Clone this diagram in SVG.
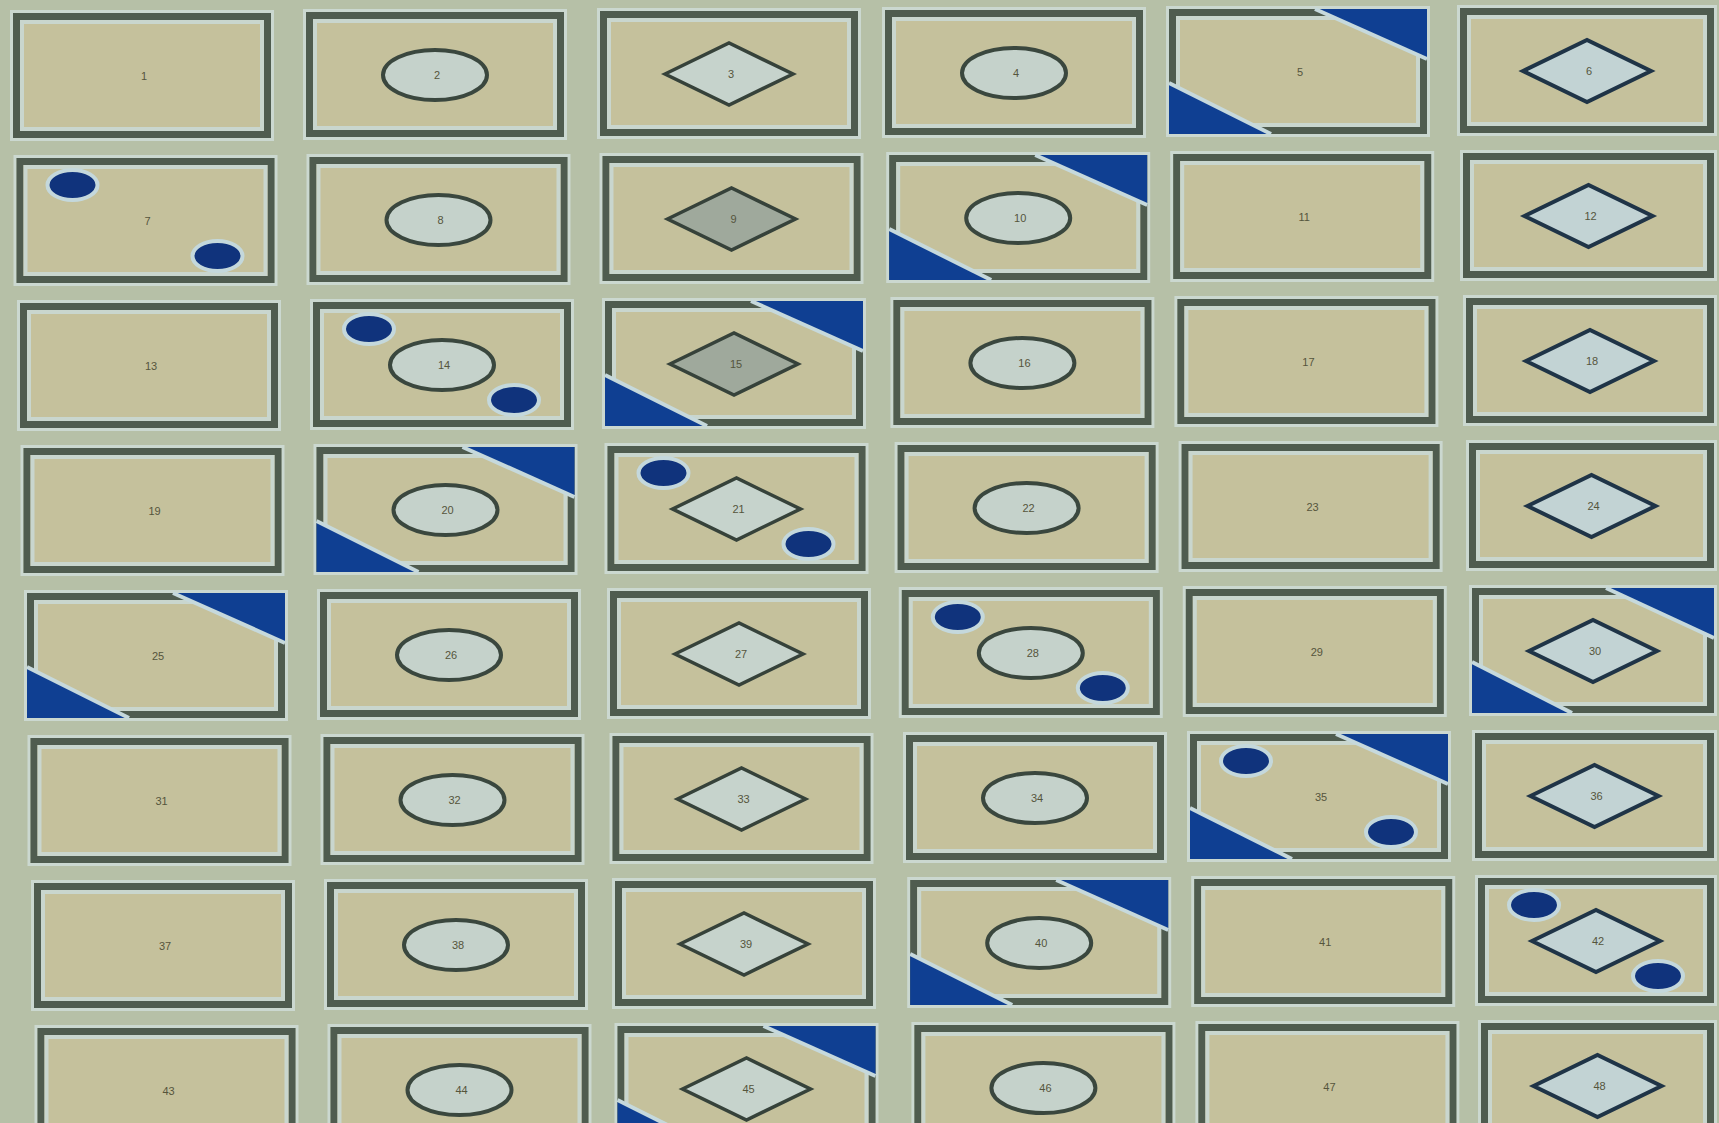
<svg xmlns="http://www.w3.org/2000/svg" xmlns:xlink="http://www.w3.org/1999/xlink" width="1719" height="1123" viewBox="0 0 1719 1123">
<style>
.bg{fill:#b6c0a7}
.halo{fill:none;stroke:#cbd8d0;stroke-width:3}
.body{fill:#c5c19c;stroke:#4f5c4f;stroke-width:7}
.inner{fill:none;stroke:#c9d6ce;stroke-width:4}
.tri{fill:#0f3f92}
.edge{stroke:#c6d9dc;stroke-width:4}
.dot{fill:#10337c;stroke:#c4d8dc;stroke-width:4}
.ring{fill:#c5d2cb;stroke:#3a473e;stroke-width:4}
.dia{fill:#c6d3cc;stroke:#36423a;stroke-width:3.5}
.diag{fill:#9fa99c;stroke:#36423a;stroke-width:3.5}
.dia6{fill:#c2d3d4;stroke:#1f3447;stroke-width:4}
.lbl{font-family:"Liberation Sans",Arial,sans-serif;font-size:11px;fill:#55553c;text-anchor:middle}
</style>
<defs>
<g id="base">
<rect class="halo" x="-1.5" y="-1.5" width="261" height="128"/>
<rect class="body" x="3.5" y="3.5" width="251" height="118"/>
<rect class="inner" x="9" y="9" width="240" height="107"/>
</g>
<g id="tris">
<polygon class="tri" points="146,0 258,0 258,50"/>
<polygon class="tri" points="0,74 0,125 102,125"/>
<line class="edge" x1="146" y1="0" x2="258" y2="50"/>
<line class="edge" x1="0" y1="74" x2="102" y2="125"/>
</g>
<g id="dots">
<ellipse class="dot" cx="56" cy="27" rx="25" ry="15"/>
<ellipse class="dot" cx="201" cy="98" rx="25" ry="15"/>
</g>
<ellipse id="ring" class="ring" cx="0" cy="0" rx="52" ry="25"/>
<polygon id="dia" class="dia" points="-64,0 0,-31 64,0 0,31"/>
<polygon id="diag" class="diag" points="-64,0 0,-31 64,0 0,31"/>
<polygon id="dia6" class="dia6" points="-64,0 0,-31 64,0 0,31"/>
</defs>
<rect class="bg" x="0" y="0" width="1719" height="1123"/>
<g id="connectors"></g>

<!-- Row 1 -->
<g id="card-1" transform="translate(13,13)"><use href="#base"/><text class="lbl" x="131" y="67">1</text></g>
<g id="card-2" transform="translate(306,12)"><use href="#base"/><use href="#ring" x="129" y="63"/><text class="lbl" x="131" y="67">2</text></g>
<g id="card-3" transform="translate(600,11)"><use href="#base"/><use href="#dia" x="129" y="63"/><text class="lbl" x="131" y="67">3</text></g>
<g id="card-4" transform="translate(885,10)"><use href="#base"/><use href="#ring" x="129" y="63"/><text class="lbl" x="131" y="67">4</text></g>
<g id="card-5" transform="translate(1169,9)"><use href="#base"/><use href="#tris"/><text class="lbl" x="131" y="67">5</text></g>
<g id="card-6" transform="translate(1460,8)"><rect class="halo" x="-1.5" y="-1.5" width="257" height="128"/><rect class="body" x="3.5" y="3.5" width="247" height="118"/><rect class="inner" x="9" y="9" width="236" height="107"/><use href="#dia6" x="127" y="63"/><text class="lbl" x="129" y="67">6</text></g>

<!-- Row 2 -->
<g id="card-7" transform="translate(16.5,158)"><use href="#base"/><use href="#dots"/><text class="lbl" x="131" y="67">7</text></g>
<g id="card-8" transform="translate(309.5,157)"><use href="#base"/><use href="#ring" x="129" y="63"/><text class="lbl" x="131" y="67">8</text></g>
<g id="card-9" transform="translate(602.5,156)"><use href="#base"/><use href="#diag" x="129" y="63"/><text class="lbl" x="131" y="67">9</text></g>
<g id="card-10" transform="translate(889.2,155)"><use href="#base"/><use href="#tris"/><use href="#ring" x="129" y="63"/><text class="lbl" x="131" y="67">10</text></g>
<g id="card-11" transform="translate(1173.2,154)"><use href="#base"/><text class="lbl" x="131" y="67">11</text></g>
<g id="card-12" transform="translate(1463,153)"><rect class="halo" x="-1.5" y="-1.5" width="254" height="128"/><rect class="body" x="3.5" y="3.5" width="244" height="118"/><rect class="inner" x="9" y="9" width="233" height="107"/><use href="#dia6" x="125.5" y="63"/><text class="lbl" x="127.5" y="67">12</text></g>

<!-- Row 3 -->
<g id="card-13" transform="translate(20,303)"><use href="#base"/><text class="lbl" x="131" y="67">13</text></g>
<g id="card-14" transform="translate(313,302)"><use href="#base"/><use href="#ring" x="129" y="63"/><use href="#dots"/><text class="lbl" x="131" y="67">14</text></g>
<g id="card-15" transform="translate(605,301)"><use href="#base"/><use href="#tris"/><use href="#diag" x="129" y="63"/><text class="lbl" x="131" y="67">15</text></g>
<g id="card-16" transform="translate(893.4,300)"><use href="#base"/><use href="#ring" x="129" y="63"/><text class="lbl" x="131" y="67">16</text></g>
<g id="card-17" transform="translate(1177.4,299)"><use href="#base"/><text class="lbl" x="131" y="67">17</text></g>
<g id="card-18" transform="translate(1466,298)"><rect class="halo" x="-1.5" y="-1.5" width="251" height="128"/><rect class="body" x="3.5" y="3.5" width="241" height="118"/><rect class="inner" x="9" y="9" width="230" height="107"/><use href="#dia6" x="124" y="63"/><text class="lbl" x="126" y="67">18</text></g>

<!-- Row 4 -->
<g id="card-19" transform="translate(23.5,448)"><use href="#base"/><text class="lbl" x="131" y="67">19</text></g>
<g id="card-20" transform="translate(316.5,447)"><use href="#base"/><use href="#tris"/><use href="#ring" x="129" y="63"/><text class="lbl" x="131" y="67">20</text></g>
<g id="card-21" transform="translate(607.5,446)"><use href="#base"/><use href="#dia" x="129" y="63"/><use href="#dots"/><text class="lbl" x="131" y="67">21</text></g>
<g id="card-22" transform="translate(897.6,445)"><use href="#base"/><use href="#ring" x="129" y="63"/><text class="lbl" x="131" y="67">22</text></g>
<g id="card-23" transform="translate(1181.6,444)"><use href="#base"/><text class="lbl" x="131" y="67">23</text></g>
<g id="card-24" transform="translate(1469,443)"><rect class="halo" x="-1.5" y="-1.5" width="248" height="128"/><rect class="body" x="3.5" y="3.5" width="238" height="118"/><rect class="inner" x="9" y="9" width="227" height="107"/><use href="#dia6" x="122.5" y="63"/><text class="lbl" x="124.5" y="67">24</text></g>

<!-- Row 5 -->
<g id="card-25" transform="translate(27,593)"><use href="#base"/><use href="#tris"/><text class="lbl" x="131" y="67">25</text></g>
<g id="card-26" transform="translate(320,592)"><use href="#base"/><use href="#ring" x="129" y="63"/><text class="lbl" x="131" y="67">26</text></g>
<g id="card-27" transform="translate(610,591)"><use href="#base"/><use href="#dia" x="129" y="63"/><text class="lbl" x="131" y="67">27</text></g>
<g id="card-28" transform="translate(901.8,590)"><use href="#base"/><use href="#ring" x="129" y="63"/><use href="#dots"/><text class="lbl" x="131" y="67">28</text></g>
<g id="card-29" transform="translate(1185.8,589)"><use href="#base"/><text class="lbl" x="131" y="67">29</text></g>
<g id="card-30" transform="translate(1472,588)"><rect class="halo" x="-1.5" y="-1.5" width="245" height="128"/><rect class="body" x="3.5" y="3.5" width="235" height="118"/><rect class="inner" x="9" y="9" width="224" height="107"/><polygon class="tri" points="134,0 242,0 242,50"/><polygon class="tri" points="0,74 0,125 100,125"/><line class="edge" x1="134" y1="0" x2="242" y2="50"/><line class="edge" x1="0" y1="74" x2="100" y2="125"/><use href="#dia6" x="121" y="63"/><text class="lbl" x="123" y="67">30</text></g>

<!-- Row 6 -->
<g id="card-31" transform="translate(30.5,738)"><use href="#base"/><text class="lbl" x="131" y="67">31</text></g>
<g id="card-32" transform="translate(323.5,737)"><use href="#base"/><use href="#ring" x="129" y="63"/><text class="lbl" x="131" y="67">32</text></g>
<g id="card-33" transform="translate(612.5,736)"><use href="#base"/><use href="#dia" x="129" y="63"/><text class="lbl" x="131" y="67">33</text></g>
<g id="card-34" transform="translate(906,735)"><use href="#base"/><use href="#ring" x="129" y="63"/><text class="lbl" x="131" y="67">34</text></g>
<g id="card-35" transform="translate(1190,734)"><use href="#base"/><use href="#tris"/><use href="#dots"/><text class="lbl" x="131" y="67">35</text></g>
<g id="card-36" transform="translate(1475,733)"><rect class="halo" x="-1.5" y="-1.5" width="242" height="128"/><rect class="body" x="3.5" y="3.5" width="232" height="118"/><rect class="inner" x="9" y="9" width="221" height="107"/><use href="#dia6" x="119.5" y="63"/><text class="lbl" x="121.5" y="67">36</text></g>

<!-- Row 7 -->
<g id="card-37" transform="translate(34,883)"><use href="#base"/><text class="lbl" x="131" y="67">37</text></g>
<g id="card-38" transform="translate(327,882)"><use href="#base"/><use href="#ring" x="129" y="63"/><text class="lbl" x="131" y="67">38</text></g>
<g id="card-39" transform="translate(615,881)"><use href="#base"/><use href="#dia" x="129" y="63"/><text class="lbl" x="131" y="67">39</text></g>
<g id="card-40" transform="translate(910.2,880)"><use href="#base"/><use href="#tris"/><use href="#ring" x="129" y="63"/><text class="lbl" x="131" y="67">40</text></g>
<g id="card-41" transform="translate(1194.2,879)"><use href="#base"/><text class="lbl" x="131" y="67">41</text></g>
<g id="card-42" transform="translate(1478,878)"><rect class="halo" x="-1.5" y="-1.5" width="239" height="128"/><rect class="body" x="3.5" y="3.5" width="229" height="118"/><rect class="inner" x="9" y="9" width="218" height="107"/><use href="#dia6" x="118" y="63"/><ellipse class="dot" cx="56" cy="27" rx="25" ry="15"/><ellipse class="dot" cx="180" cy="98" rx="25" ry="15"/><text class="lbl" x="120" y="67">42</text></g>

<!-- Row 8 -->
<g id="card-43" transform="translate(37.5,1028)"><use href="#base"/><text class="lbl" x="131" y="67">43</text></g>
<g id="card-44" transform="translate(330.5,1027)"><use href="#base"/><use href="#ring" x="129" y="63"/><text class="lbl" x="131" y="67">44</text></g>
<g id="card-45" transform="translate(617.5,1026)"><use href="#base"/><use href="#tris"/><use href="#dia" x="129" y="63"/><text class="lbl" x="131" y="67">45</text></g>
<g id="card-46" transform="translate(914.4,1025)"><use href="#base"/><use href="#ring" x="129" y="63"/><text class="lbl" x="131" y="67">46</text></g>
<g id="card-47" transform="translate(1198.4,1024)"><use href="#base"/><text class="lbl" x="131" y="67">47</text></g>
<g id="card-48" transform="translate(1481,1023)"><rect class="halo" x="-1.5" y="-1.5" width="236" height="128"/><rect class="body" x="3.5" y="3.5" width="226" height="118"/><rect class="inner" x="9" y="9" width="215" height="107"/><use href="#dia6" x="116.5" y="63"/><text class="lbl" x="118.5" y="67">48</text></g>
</svg>
